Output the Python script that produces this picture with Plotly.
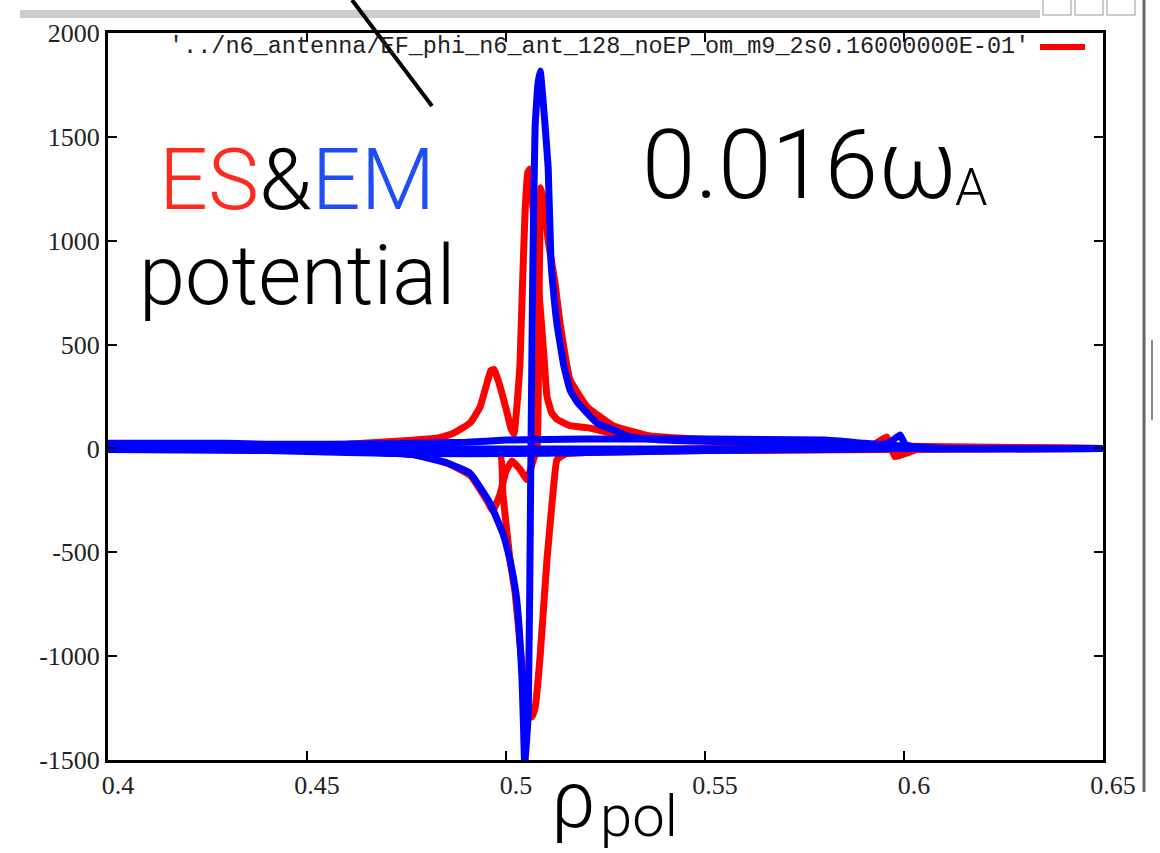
import plotly.graph_objects as go

# ---- data: ES potential (red) and EM potential (blue) vs rho_pol ----
es_a_x = [0.40, 0.43, 0.46, 0.4766, 0.4830, 0.4870, 0.4910, 0.4935, 0.4952, 0.4962, 0.4970,
          0.4980, 0.4992, 0.5003, 0.5012, 0.5020, 0.5028, 0.5035, 0.5040, 0.5048, 0.5055,
          0.5060, 0.5068, 0.5075, 0.5085, 0.5095, 0.5103, 0.5115, 0.5128, 0.5160, 0.5204,
          0.5300, 0.5500, 0.5800, 0.6000, 0.6500]
es_a_y = [5, 10, 20, 40, 50, 75, 123, 200, 313, 375, 380,
          330, 250, 170, 100, 70, 216, 400, 700, 1145, 1330,
          1345, 1150, 900, 700, 450, 250, 170, 140, 110, 100,
          60, 40, 25, 5, 0]

es_b_x = [0.40, 0.45, 0.4766, 0.4852, 0.4910, 0.4952, 0.4967, 0.4985, 0.5000, 0.5015,
          0.5035, 0.5053, 0.5068, 0.5078, 0.5083, 0.5088, 0.5098, 0.5106, 0.5123, 0.5136,
          0.5161, 0.5204, 0.5269, 0.5362, 0.5600, 0.6000, 0.6500]
es_b_y = [0, -5, -30, -70, -130, -250, -300, -220, -110, -60,
          -100, -150, -60, 0, 700, 1255, 1150, 1000, 800, 600,
          330, 200, 110, 60, 35, 10, 0]

es_c_x = [0.40, 0.45, 0.48, 0.4985, 0.4992, 0.5010, 0.5023, 0.5035, 0.5048, 0.5065,
          0.5073, 0.5085, 0.5103, 0.5118, 0.5128, 0.5150, 0.5200, 0.5500, 0.6500]
es_c_y = [0, -10, -20, -30, -216, -535, -697, -937, -1178, -1293,
          -1250, -1019, -535, -216, -55, -25, -20, -10, 0]

es_d_x = [0.40, 0.50, 0.58, 0.592, 0.5957, 0.5977, 0.6010, 0.6040, 0.6500]
es_d_y = [0, -15, 10, 15, 55, -40, -20, 0, 0]

em_a_x = [0.40, 0.45, 0.4766, 0.4852, 0.4910, 0.4960, 0.4992, 0.5010, 0.5025, 0.5033,
          0.5040, 0.5044, 0.5047, 0.5056, 0.5062, 0.5067, 0.5073, 0.5080, 0.5086, 0.5092,
          0.5098, 0.5106, 0.5113, 0.5118, 0.5128, 0.5145, 0.5161, 0.5180, 0.5230, 0.5269,
          0.5312, 0.5400, 0.5600, 0.5800, 0.5900, 0.6000, 0.6500]
em_a_y = [0, -5, -30, -70, -120, -264, -409, -538, -697, -861,
          -1101, -1341, -1520, -1275, -150, 808, 1543, 1750, 1817, 1700,
          1560, 1350, 900, 780, 600, 400, 281, 220, 120, 90,
          56, 40, 30, 25, 10, 0, 0]

em_b_x = [0.40, 0.43, 0.44, 0.47, 0.49, 0.50, 0.52, 0.55, 0.58, 0.59, 0.60, 0.61, 0.65]
em_b_y = [25, 25, 20, 22, 30, 40, 45, 45, 40, 25, 10, 0, 0]

em_c_x = [0.40, 0.44, 0.46, 0.48, 0.50, 0.52, 0.55, 0.58, 0.60, 0.65]
em_c_y = [-5, -10, -20, -25, -25, -20, -10, -5, 0, 0]

em_d_x = [0.40, 0.59, 0.5965, 0.5990, 0.6003, 0.6040, 0.6500]
em_d_y = [0, 5, 30, 65, 20, 0, 0]

x_ticks = [0.4, 0.45, 0.5, 0.55, 0.6, 0.65]
x_tick_labels = ["0.4", "0.45", "0.5", "0.55", "0.6", "0.65"]
y_ticks = [-1500, -1000, -500, 0, 500, 1000, 1500, 2000]
y_tick_labels = ["-1500", "-1000", "-500", "0", "500", "1000", "1500", "2000"]

key_label = "'../n6_antenna/EF_phi_n6_ant_128_noEP_om_m9_2s0.16000000E-01'"

RED = "#ff0000"
BLUE = "#0000ff"

W, H = 1160, 853
L, R, T, B = 108, 57, 33, 93
PW, PH = W - L - R, H - T - B


def px(xp):
    return (xp - L) / PW


def py(yp):
    return (H - B - yp) / PH


fig = go.Figure()

curve_line = dict(width=7, shape="spline", smoothing=0.35)

for xs, ys in [(es_d_x, es_d_y), (es_c_x, es_c_y), (es_a_x, es_a_y), (es_b_x, es_b_y)]:
    fig.add_trace(go.Scatter(x=xs, y=ys, mode="lines",
                             line=dict(color=RED, **curve_line), showlegend=False))

for xs, ys in [(em_c_x, em_c_y), (em_b_x, em_b_y), (em_d_x, em_d_y), (em_a_x, em_a_y)]:
    fig.add_trace(go.Scatter(x=xs, y=ys, mode="lines",
                             line=dict(color=BLUE, **curve_line), showlegend=False))

tick_font = dict(family="Liberation Serif", size=26, color="#222222")

fig.update_xaxes(range=[0.4, 0.65], tickvals=x_ticks, ticktext=x_tick_labels,
                 showline=True, linewidth=3, linecolor="black", mirror="allticks",
                 ticks="inside", ticklen=9, tickwidth=2, tickcolor="black",
                 showgrid=False, zeroline=False, tickfont=tick_font, ticklabelshift=10)
fig.update_yaxes(range=[-1500, 2000], tickvals=y_ticks, ticktext=y_tick_labels,
                 showline=True, linewidth=3, linecolor="black", mirror="allticks",
                 ticks="inside", ticklen=9, tickwidth=2, tickcolor="black",
                 showgrid=False, zeroline=False, tickfont=tick_font)

shapes = [
    # window title strip and frame
    dict(type="rect", xref="paper", yref="paper", x0=px(20), x1=px(1040), y0=py(18), y1=py(10),
         fillcolor="#cccccc", line=dict(width=0), layer="below"),
    dict(type="line", xref="paper", yref="paper", x0=px(1144), x1=px(1144), y0=py(0), y1=py(792),
         line=dict(color="#666666", width=3)),
    dict(type="line", xref="paper", yref="paper", x0=px(1152), x1=px(1152), y0=py(340), y1=py(420),
         line=dict(color="#888888", width=2)),
    # key sample
    dict(type="line", xref="paper", yref="paper", x0=px(1040), x1=px(1085), y0=py(47), y1=py(47),
         line=dict(color=RED, width=6)),
    # pointer line
    dict(type="line", xref="paper", yref="paper", x0=px(352), x1=px(432), y0=py(0), y1=py(106),
         line=dict(color="black", width=4)),
]
for bx in (1043, 1075, 1107):
    shapes.append(dict(type="rect", xref="paper", yref="paper", x0=px(bx), x1=px(bx + 28),
                       y0=py(15), y1=py(-2), line=dict(color="#bbbbbb", width=1.5),
                       fillcolor="white"))

big = "Roboto"
annotations = [
    dict(text=key_label, x=px(1031), y=py(47), xanchor="right", yanchor="middle",
         font=dict(family="Liberation Mono", size=23.5, color="#222222")),
    dict(text="<span style='color:#fc2b1d'>ES</span>&amp;<span style='color:#1f4ef5'>EM</span>",
         x=px(157), y=py(180), xanchor="left", yanchor="middle",
         font=dict(family=big, size=86, color="black", weight=300)),
    dict(text="potential", x=px(137), y=py(275), xanchor="left", yanchor="middle",
         font=dict(family=big, size=83, color="black", weight=300)),
    dict(text="0.016ω", x=px(640), y=py(165), xanchor="left", yanchor="middle",
         font=dict(family=big, size=96, color="black", weight=300)),
    dict(text="A", x=px(953), y=py(188), xanchor="left", yanchor="middle",
         font=dict(family=big, size=52, color="black", weight=300)),
    dict(text="ρ", x=px(549), y=py(800), xanchor="left", yanchor="middle",
         font=dict(family=big, size=80, color="black", weight=300)),
    dict(text="pol", x=px(598), y=py(816), xanchor="left", yanchor="middle",
         font=dict(family=big, size=58, color="black", weight=300)),
]
for a in annotations:
    a.update(xref="paper", yref="paper", showarrow=False)

fig.update_layout(width=W, height=H, margin=dict(l=L, r=R, t=T, b=B, pad=0),
                  paper_bgcolor="white", plot_bgcolor="white",
                  shapes=shapes, annotations=annotations)

fig.write_html("out.html")
